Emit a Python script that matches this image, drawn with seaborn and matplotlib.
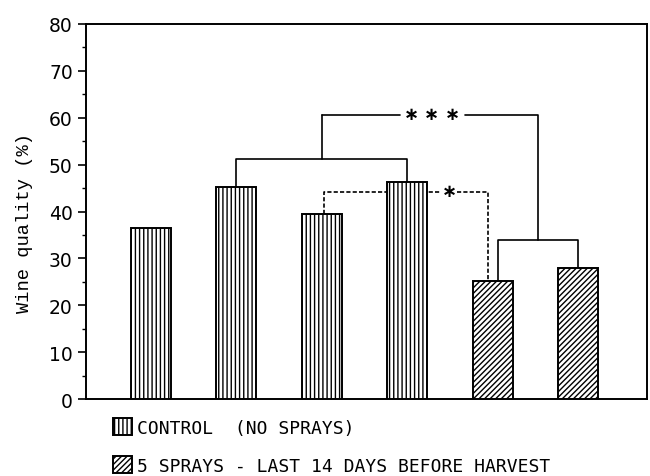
import matplotlib
matplotlib.use("Agg")
import matplotlib.pyplot as plt
from matplotlib.patches import Patch
from matplotlib.ticker import MultipleLocator
import pandas as pd
import seaborn as sns

# Bar values:
groups = ["c1", "c2", "c3", "c4", "s1", "s2"]
quality = [36.5, 45.3, 39.5, 46.2, 25.1, 28.0]
treatment = ["control"] * 4 + ["sprays"] * 2
yticks = [0, 10, 20, 30, 40, 50, 60, 70, 80]
legend_labels = ["CONTROL  (NO SPRAYS)", "5 SPRAYS - LAST 14 DAYS BEFORE HARVEST"]
hatches = {"control": "||||", "sprays": "//////"}

# Significance bracket heights (%):
pair_level = 51.2    # control 2 vs control 4
top_level = 60.6     # *** bracket
spray_level = 34.0   # spray 1 vs spray 2
dash_level = 44.2    # * bracket (dashed)

df = pd.DataFrame({"group": groups, "quality": quality, "treatment": treatment})

sns.set_style("ticks")
plt.rcParams["hatch.linewidth"] = 1.0
plt.rcParams["hatch.color"] = "black"
plt.rcParams["text.color"] = "black"
plt.rcParams["axes.labelcolor"] = "black"
plt.rcParams["ytick.color"] = "black"

fig = plt.figure(figsize=(6.5, 4.77), dpi=100)
ax = fig.add_axes([0.1323, 0.1614, 0.8631, 0.7862])

sns.barplot(data=df, x="group", y="quality", color="white", saturation=1,
            edgecolor="black", linewidth=1.4, width=0.47, errorbar=None, ax=ax)
for bar, t in zip(ax.patches, df.treatment):
    bar.set_hatch(hatches[t])
    bar.set_zorder(3)

# Brackets:
lw = 1.2
ax.plot([1, 1, 3, 3], [quality[1], pair_level, pair_level, quality[3]], color="black", lw=lw, zorder=2)
ax.plot([2, 2], [pair_level, top_level], color="black", lw=lw, zorder=2)
ax.plot([2, 2.915], [top_level, top_level], color="black", lw=lw, zorder=2)
ax.plot([3.675, 4.53, 4.53], [top_level, top_level, spray_level], color="black", lw=lw, zorder=2)
ax.plot([4.06, 4.06, 5, 5], [quality[4], spray_level, spray_level, quality[5]], color="black", lw=lw, zorder=2)
ax.plot([2.03, 2.03, 3.40], [quality[2], dash_level, dash_level], color="black", lw=lw,
        ls=(0, (2.5, 1.3)), zorder=2)
ax.plot([3.58, 3.95, 3.95], [dash_level, dash_level, quality[4]], color="black", lw=lw,
        ls=(0, (2.5, 1.3)), zorder=2)
for xs in [3.053, 3.287, 3.532]:
    ax.text(xs, top_level + 0.2, "\u2217", ha="center", va="center", fontsize=13,
            fontweight="bold", family="DejaVu Sans")
ax.text(3.49, dash_level + 0.2, "\u2217", ha="center", va="center", fontsize=13,
        fontweight="bold", family="DejaVu Sans")

# Axes:
ax.set_xlim(-0.757, 5.805)
ax.set_ylim(0, 80)
ax.set_xticks([])
ax.set_xlabel("")
ax.set_yticks(yticks)
ax.yaxis.set_minor_locator(MultipleLocator(5))
ax.tick_params(axis="y", which="major", length=6, width=1.2, direction="out",
               pad=3.5, labelsize=13.5)
ax.tick_params(axis="y", which="minor", length=3, width=1.0, direction="out")
for s in ax.spines.values():
    s.set_linewidth(1.4)
    s.set_color("black")
ax.set_ylabel("Wine quality (%)", family="Liberation Mono", fontsize=13.5)
ax.yaxis.set_label_coords(-0.0945, 0.472)

handles = [Patch(facecolor="white", edgecolor="black", linewidth=1.4, hatch=hatches[k])
           for k in ["control", "sprays"]]
fig.legend(handles, legend_labels, loc="upper left", bbox_to_anchor=(0.1738, 0.1215),
           frameon=False, prop={"family": "DejaVu Sans Mono", "size": 13},
           handlelength=1.05, handleheight=1.05, handletextpad=0.3,
           labelspacing=1.1, borderpad=0, borderaxespad=0)

fig.savefig("out.png", dpi=100)
